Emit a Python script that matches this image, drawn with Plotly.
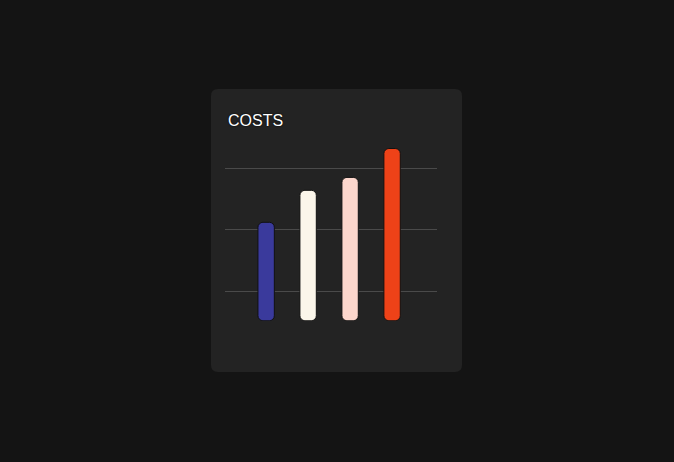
import plotly.graph_objects as go

categories = ["A", "B", "C", "D"]
costs = [32, 42.4, 46.6, 56]
bar_colors = ["#3a3a9c", "#fbf6ea", "#fcd6cc", "#ee4218"]
grid_values = [9.5, 29.5, 49.5]

W, H = 674, 462
UNIT = 3.075          # px per y unit

def px(x):
    return x / W

def py(y):
    return 1 - y / H

# rounded card behind the chart
x0, x1, y0, y1, r = 211, 462, 89, 372, 7
card = (
    f"M {px(x0 + r)} {py(y0)} L {px(x1 - r)} {py(y0)} "
    f"Q {px(x1)} {py(y0)} {px(x1)} {py(y0 + r)} "
    f"L {px(x1)} {py(y1 - r)} Q {px(x1)} {py(y1)} {px(x1 - r)} {py(y1)} "
    f"L {px(x0 + r)} {py(y1)} Q {px(x0)} {py(y1)} {px(x0)} {py(y1 - r)} "
    f"L {px(x0)} {py(y0 + r)} Q {px(x0)} {py(y0)} {px(x0 + r)} {py(y0)} Z"
)

xs = list(range(len(categories)))

fig = go.Figure()
fig.add_trace(go.Bar(x=xs, y=costs, base=[0] * len(costs), width=0.39,
                     marker=dict(color=bar_colors, line=dict(color="#111111", width=1)),
                     hovertext=categories))

fig.update_layout(
    width=W, height=H,
    margin=dict(l=0, r=0, t=0, b=0),
    paper_bgcolor="#141414",
    plot_bgcolor="rgba(0,0,0,0)",
    showlegend=False,
    barcornerradius=5,
    shapes=[dict(type="path", path=card, xref="paper", yref="paper",
                 fillcolor="#232323", line=dict(width=0), layer="below")],
    annotations=[dict(text="COSTS", x=px(226.5), y=py(120.5), xref="paper", yref="paper",
                      xanchor="left", yanchor="middle", showarrow=False,
                      font=dict(family="Liberation Sans, Arial", size=16, color="#ffffff",
                                shadow="0px 0px 2px #000000"))],
    xaxis=dict(domain=[px(225), px(437)], range=[-0.98, 4.07],
               showgrid=False, zeroline=False, showticklabels=False, fixedrange=True),
    yaxis=dict(domain=[py(320.7), py(320.7 - 60 * UNIT)], range=[0, 60],
               tickvals=grid_values, showticklabels=False,
               showgrid=True, gridcolor="#4a4a4a", gridwidth=1,
               zeroline=False, fixedrange=True),
)

fig.write_html("out.html", config={"displayModeBar": False},
               post_script="document.body.style.margin='0';"
                           "document.body.style.background='#141414';")
